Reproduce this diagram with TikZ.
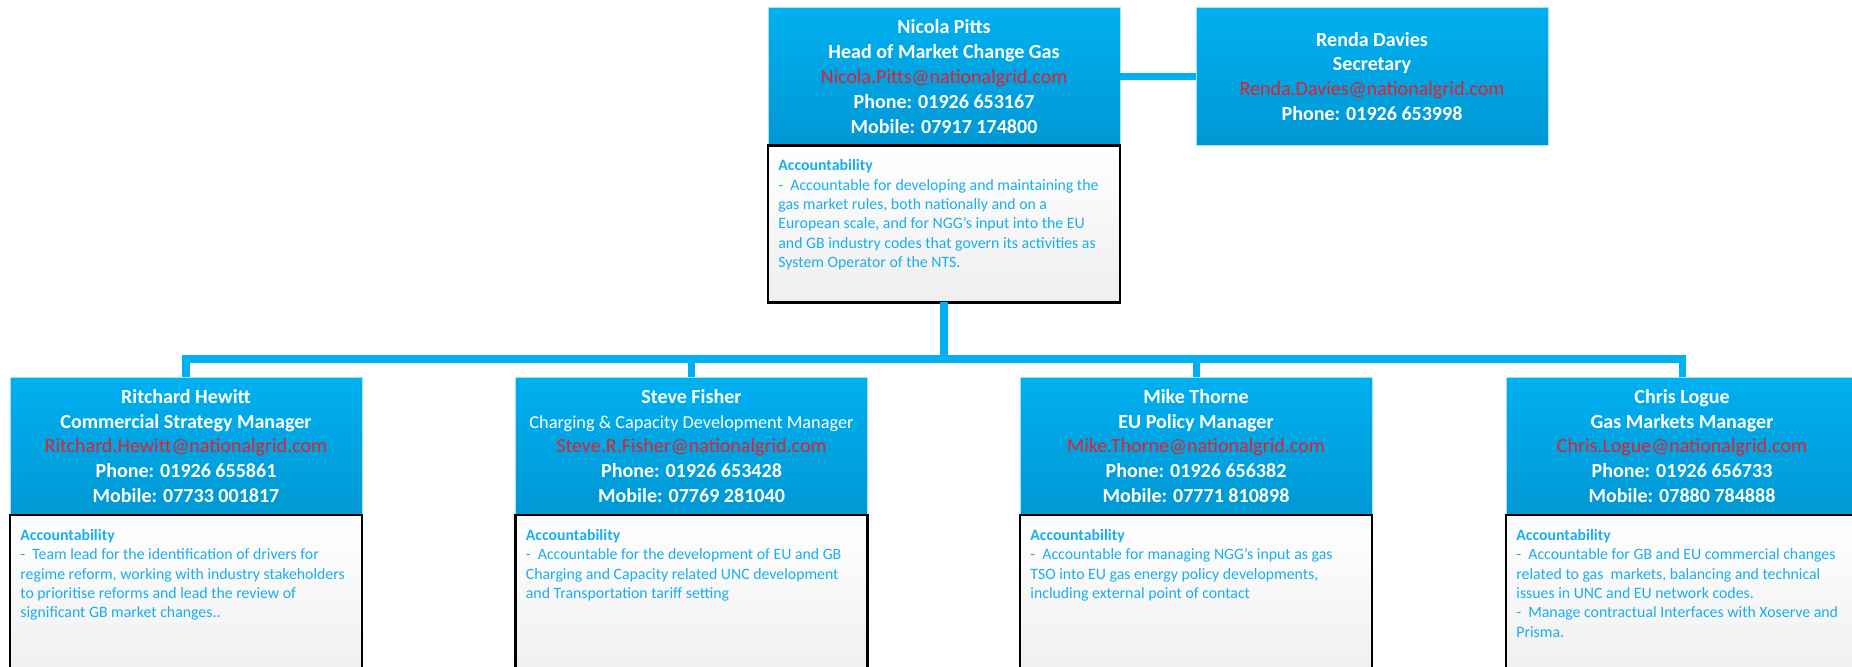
\documentclass[tikz,border=0pt]{standalone}
\usepackage{fontspec}
\setmainfont{Carlito}
\usepackage{xcolor}
\usepackage{tikz}
\usetikzlibrary{positioning,calc}
\definecolor{azulTopo}{HTML}{00B0F0}
\definecolor{azulBase}{HTML}{0098D4}
\definecolor{azulTexto}{HTML}{1AAEEB}
\definecolor{vermelhoEmail}{HTML}{E3202C}
\tikzset{
    cabecalho/.style={
        rectangle,
        top color=azulTopo,
        bottom color=azulBase,
        draw=azulTopo!35,
        line width=0.4pt,
        align=center,
        minimum width=7.04cm,
        minimum height=2.76cm,
        inner sep=0pt,
        outer sep=0pt,
        text=white,
        font=\fontsize{11.4}{14.2}\selectfont\bfseries
    },
    corpo/.style={
        rectangle,
        draw=black,
        line width=1.6pt,
        top color=white,
        bottom color=gray!13,
        minimum width=7.04cm,
        inner sep=0pt,
        outer sep=0pt
    },
    textoCorpo/.style={
        align=left,
        anchor=north west,
        inner sep=0pt,
        text=azulTexto,
        font=\fontsize{9}{11}\selectfont
    },
    ligacao/.style={draw=azulTopo, line width=4pt}
}
\newcommand{\correio}[1]{{\mdseries\color{vermelhoEmail}#1}}

\begin{document}
\begin{tikzpicture}[x=0.02cm, y=-0.02cm]

        \clip (0,0) rectangle (1852,666);

        \node[cabecalho] (pitts) at (944,76.5)
        {Nicola Pitts\\
         Head of Market Change Gas\\
         \correio{Nicola.Pitts@nationalgrid.com}\\
         Phone: 01926 653167\\
         Mobile: 07917 174800};
        \node[corpo, minimum height=3.14cm, below=0pt of pitts] (pittsCorpo) {};
        \node[textoCorpo] (pittsTexto) at ([shift={(0.2cm,-0.28cm)}]pittsCorpo.north west)
        {\textbf{Accountability}\\
         -~~Accountable for developing and maintaining the\\
         gas market rules, both nationally and on a\\
         European scale, and for NGG’s input into the EU\\
         and GB industry codes that govern its activities as\\
         System Operator of the NTS.};

        \node[cabecalho] (davies) at (1372,76.5)
        {Renda Davies\\
         Secretary\\
         \correio{Renda.Davies@nationalgrid.com}\\
         Phone: 01926 653998};

        \node[cabecalho] (hewitt) at (186,446)
        {Ritchard Hewitt\\
         Commercial Strategy Manager\\
         \correio{Ritchard.Hewitt@nationalgrid.com}\\
         Phone: 01926 655861\\
         Mobile: 07733 001817};
        \node[corpo, minimum height=3.4cm, below=0pt of hewitt] (hewittCorpo) {};
        \node[textoCorpo] (hewittTexto) at ([shift={(0.2cm,-0.28cm)}]hewittCorpo.north west)
        {\textbf{Accountability}\\
         -~~Team lead for the identification of drivers for\\
         regime reform, working with industry stakeholders\\
         to prioritise reforms and lead the review of\\
         significant GB market changes..};

        \node[cabecalho] (fisher) at (691.5,446)
        {Steve Fisher\\
         {\mdseries\fontsize{10.4}{14.2}\selectfont Charging \& Capacity Development Manager}\\
         \correio{Steve.R.Fisher@nationalgrid.com}\\
         Phone: 01926 653428\\
         Mobile: 07769 281040};
        \node[corpo, minimum height=3.4cm, below=0pt of fisher] (fisherCorpo) {};
        \node[textoCorpo] (fisherTexto) at ([shift={(0.2cm,-0.28cm)}]fisherCorpo.north west)
        {\textbf{Accountability}\\
         -~~Accountable for the development of EU and GB\\
         Charging and Capacity related UNC development\\
         and Transportation tariff setting};

        \node[cabecalho] (thorne) at (1196,446)
        {Mike Thorne\\
         EU Policy Manager\\
         \correio{Mike.Thorne@nationalgrid.com}\\
         Phone: 01926 656382\\
         Mobile: 07771 810898};
        \node[corpo, minimum height=3.4cm, below=0pt of thorne] (thorneCorpo) {};
        \node[textoCorpo] (thorneTexto) at ([shift={(0.2cm,-0.28cm)}]thorneCorpo.north west)
        {\textbf{Accountability}\\
         -~~Accountable for managing NGG’s input as gas\\
         TSO into EU gas energy policy developments,\\
         including external point of contact};

        \node[cabecalho] (logue) at (1682,446)
        {Chris Logue\\
         Gas Markets Manager\\
         \correio{Chris.Logue@nationalgrid.com}\\
         Phone: 01926 656733\\
         Mobile: 07880 784888};
        \node[corpo, minimum height=3.4cm, below=0pt of logue] (logueCorpo) {};
        \node[textoCorpo] (logueTexto) at ([shift={(0.2cm,-0.28cm)}]logueCorpo.north west)
        {\textbf{Accountability}\\
         -~~Accountable for GB and EU commercial changes\\
         related to gas~~markets, balancing and technical\\
         issues in UNC and EU network codes.\\
         -~~Manage contractual Interfaces with Xoserve and\\
         Prisma.};

        \coordinate (barra) at (944,359);

        \draw[ligacao] (pitts.east) -- (davies.west);
        \draw[ligacao] (pittsCorpo.south) -- (barra);
        \draw[ligacao] (hewitt.north) -- (hewitt.north |- barra)
            -- (logue.north |- barra) -- (logue.north);
        \foreach \n in {fisher,thorne}
            \draw[ligacao] (barra -| \n.north) -- (\n.north);

    \end{tikzpicture}
\end{document}
